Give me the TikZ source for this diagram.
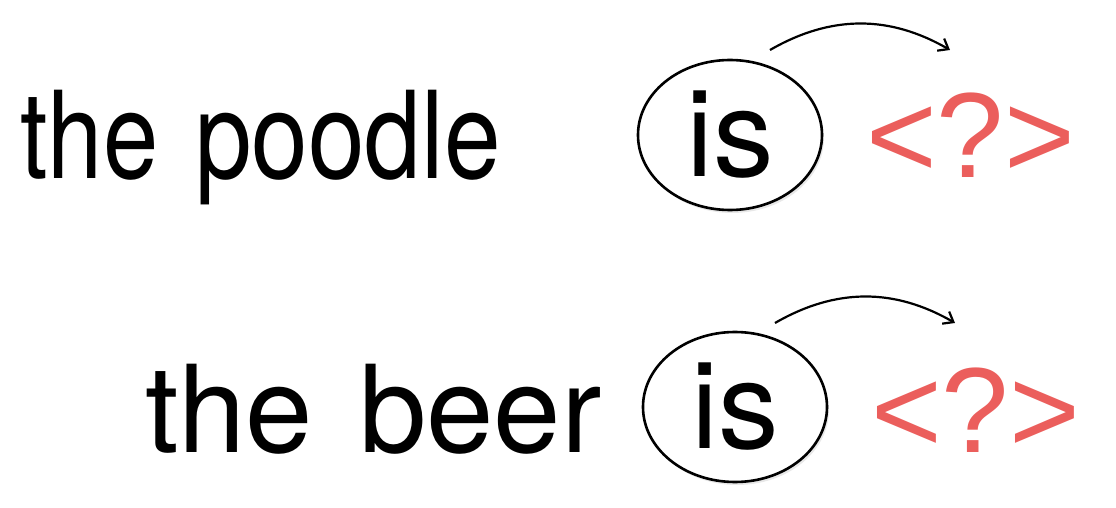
\documentclass[tikz,border=0pt]{standalone}
\usepackage{fontspec}
\setmainfont{TeX Gyre Heros}
\newfontfamily\guessfont{Liberation Sans}
\usepackage{xcolor}
\usetikzlibrary{shapes.geometric,shadows,arrows.meta}
\definecolor{guessred}{RGB}{235,94,92}
\definecolor{wordblack}{RGB}{0,0,0}

\begin{document}
\begin{tikzpicture}[x=0.5pt, y=-0.5pt,
    word/.style={anchor=base west, inner sep=0pt, outer sep=0pt,
        font=\fontsize{60.6}{72}\selectfont, text=wordblack},
    focus/.style={ellipse, draw=black, line width=1.3pt, fill=white,
        minimum width=92pt, minimum height=75pt, inner sep=0pt,
        font=\fontsize{60.6}{72}\selectfont,
        drop shadow={opacity=0.18, shadow xshift=1pt, shadow yshift=-1.5pt}},
    guess/.style={word, text=guessred, font=\guessfont\fontsize{60.6}{72}\selectfont},
    next/.style={-{Straight Barb[length=4.5pt, width=7pt]}, line width=1.1pt, bend left=30}]
    \useasboundingbox (0,0) rectangle (1116,508);

    % Top sentence
    \node[word] (the1) at (20.6,179) {\scalebox{0.82}[1]{the}};
    \node[word] (poodle) at (195,179) {\scalebox{0.84}[1]{poodle}};
    \node[focus] (is1) at (730,135) {is};
    \node[guess] (q1) at (866,178) {<?>};
    \coordinate (from1) at (770,50);
    \coordinate (to1) at (950,50);
    \draw[next] (from1) to (to1);

    % Bottom sentence
    \node[word] (the2) at (145.3,452) {the};
    \node[word] (beer) at (359,452) {beer};
    \node[focus] (is2) at (735,407) {is};
    \node[guess] (q2) at (871,452) {<?>};
    \coordinate (from2) at (775,323);
    \coordinate (to2) at (955,323);
    \draw[next] (from2) to (to2);
\end{tikzpicture}
\end{document}
